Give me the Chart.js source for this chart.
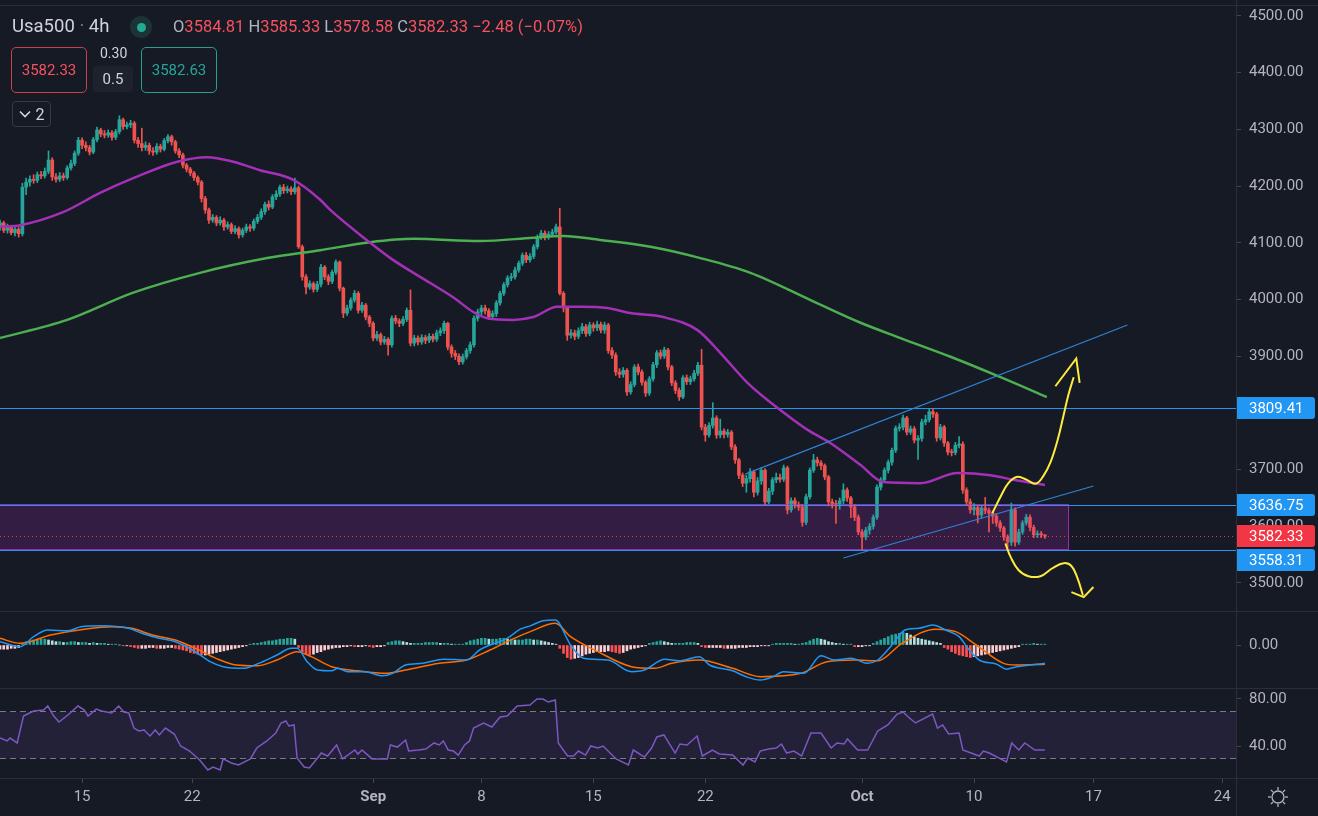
<!DOCTYPE html>
<html>
<head>
<meta charset="utf-8">
<title>Usa500 · 4h</title>
<script src="https://cdn.jsdelivr.net/npm/chart.js@4.4.1/dist/chart.umd.min.js"></script>
<style>
  body { margin:0; width:1318px; height:816px; overflow:hidden; background:#161a25; font-family:Roboto, "Liberation Sans", sans-serif; }
  canvas { position:absolute; left:0; }
  .hline { position:absolute; left:0; width:1318px; height:1px; background:#2a2e39; }
  .vline { position:absolute; top:0; left:1236px; width:1px; height:816px; background:#2a2e39; }
  .lg { position:absolute; white-space:nowrap; }
  .box { position:absolute; box-sizing:border-box; border-radius:5px; display:flex; align-items:center; justify-content:center; font-size:15px; }
</style>
</head>
<body>
<canvas id="mainChart" width="1318" height="611" style="top:0"></canvas>
<canvas id="macdChart" width="1318" height="77" style="top:611px"></canvas>
<canvas id="rsiChart" width="1318" height="128" style="top:688px"></canvas>

<div class="hline" style="top:5px"></div>
<div class="hline" style="top:611px"></div>
<div class="hline" style="top:688px"></div>
<div class="hline" style="top:778px"></div>
<div class="vline"></div>

<!-- legende en haut a gauche -->
<div class="lg" style="left:12px;top:15px;font-size:18.5px;color:#d1d4dc">Usa500 <span style="color:#787b86">·</span> 4h</div>
<div class="lg" style="left:130px;top:16px;width:22px;height:22px;border-radius:50%;background:#1c3436"></div>
<div class="lg" style="left:136.5px;top:22.5px;width:9px;height:9px;border-radius:50%;background:#22ab94"></div>
<div class="lg" style="left:173px;top:17px;font-size:16.5px;color:#b2b5be">O<span style="color:#f7525f">3584.81</span> H<span style="color:#f7525f">3585.33</span> L<span style="color:#f7525f">3578.58</span> C<span style="color:#f7525f">3582.33</span> <span style="color:#f7525f">−2.48 (−0.07%)</span></div>
<div class="box" style="left:11px;top:47px;width:76px;height:46px;border:1px solid #c9404c;color:#f7525f">3582.33</div>
<div class="lg" style="left:100px;top:45px;font-size:14px;color:#d1d4dc">0.30</div>
<div class="box" style="left:93px;top:66px;width:40px;height:26px;background:#1e222d;color:#d1d4dc;border-radius:4px">0.5</div>
<div class="box" style="left:141px;top:47px;width:76px;height:46px;border:1px solid #2a9d8f;color:#26a69a">3582.63</div>
<div class="box" style="left:12px;top:101px;width:39px;height:26px;border:1px solid #363a45;border-radius:4px;color:#d1d4dc;font-size:16px">
  <svg width="12" height="8" style="margin-right:5px"><polyline points="1,1.5 6,6.5 11,1.5" fill="none" stroke="#d1d4dc" stroke-width="1.6"/></svg>2
</div>
<svg class="lg" style="left:1266px;top:785px" width="24" height="24">
  <g stroke="#b2b5be" stroke-width="1.3" fill="none">
    <circle cx="12" cy="12" r="6"/>
    <line x1="12" y1="2" x2="12" y2="5"/><line x1="12" y1="19" x2="12" y2="22"/>
    <line x1="2" y1="12" x2="5" y2="12"/><line x1="19" y1="12" x2="22" y2="12"/>
    <line x1="4.9" y1="4.9" x2="7" y2="7"/><line x1="17" y1="17" x2="19.1" y2="19.1"/>
    <line x1="4.9" y1="19.1" x2="7" y2="17"/><line x1="17" y1="7" x2="19.1" y2="4.9"/>
  </g>
</svg>

<script>
/* ####################################################################*/
/* donnees : une bougie 4h par index */
const firstOpen = 4128
const closes = [
  4135,4122,4128,4118,4124,4116,4198,4207,4212,4210,
  4220,4218,4226,4246,4216,4212,4218,4215,4232,4240,
  4258,4281,4272,4268,4260,4282,4299,4292,4290,4294,
  4286,4296,4317,4305,4308,4311,4281,4275,4268,4272,
  4262,4260,4270,4265,4280,4287,4278,4262,4255,4237,
  4230,4223,4215,4207,4178,4158,4140,4145,4135,4140,
  4128,4132,4120,4125,4114,4122,4128,4126,4138,4145,
  4155,4168,4163,4181,4186,4198,4192,4195,4190,4197,
  4093,4040,4022,4028,4018,4027,4057,4040,4032,4048,
  4066,4020,3976,3985,3999,4011,3981,3990,3969,3958,
  3932,3938,3925,3930,3920,3967,3962,3958,3965,3981,
  3923,3932,3925,3933,3928,3935,3930,3941,3945,3958,
  3916,3905,3900,3890,3899,3910,3920,3967,3978,3985,
  3980,3970,3975,3994,4011,4026,4038,4040,4052,4064,
  4078,4070,4076,4093,4110,4117,4110,4115,4119,4128,
  4011,3985,3937,3941,3935,3945,3952,3940,3955,3950,
  3956,3946,3955,3910,3902,3872,3868,3875,3837,3850,
  3881,3872,3854,3835,3860,3885,3906,3900,3911,3881,
  3853,3840,3828,3862,3855,3860,3870,3884,3775,3761,
  3778,3791,3761,3768,3762,3766,3740,3717,3690,3676,
  3684,3696,3660,3680,3699,3643,3662,3682,3686,3683,
  3703,3629,3645,3638,3634,3607,3652,3699,3717,3712,
  3707,3687,3643,3640,3636,3645,3664,3650,3634,3616,
  3590,3581,3593,3600,3616,3669,3682,3699,3713,3734,
  3773,3775,3791,3766,3772,3752,3755,3784,3788,3802,
  3798,3756,3775,3747,3731,3730,3743,3745,3664,3643,
  3629,3633,3620,3632,3628,3623,3618,3606,3597,3581,
  3572,3629,3572,3590,3606,3616,3598,3585,3587,3584.81,
  3582.33
]
const highs = [
  4140,4138,4133,4131,4128,4127,4205,4214,4218,4220,
  4225,4226,4232,4262,4250,4222,4224,4223,4236,4246,
  4262,4286,4285,4278,4272,4286,4304,4302,4298,4299,
  4298,4300,4324,4320,4313,4316,4314,4286,4302,4278,
  4276,4268,4275,4274,4284,4291,4290,4281,4266,4258,
  4240,4233,4226,4218,4210,4182,4161,4150,4148,4146,
  4143,4137,4135,4130,4128,4126,4133,4132,4142,4150,
  4160,4172,4174,4185,4192,4202,4203,4200,4199,4214,
  4200,4096,4044,4033,4031,4032,4062,4060,4044,4052,
  4070,4068,4022,3990,4003,4016,4014,3995,3993,3972,
  3961,3944,3941,3935,3933,3971,3972,3966,3970,3985,
  4017,3937,3936,3938,3937,3940,3939,3946,3950,3962,
  3960,3920,3910,3904,3904,3914,3925,3971,3983,3990,
  3990,3984,3980,3998,4015,4030,4042,4046,4057,4068,
  4082,4083,4081,4097,4114,4122,4121,4120,4124,4133,
  4161,4014,3988,3947,3946,3950,3958,3956,3960,3959,
  3962,3960,3960,3958,3915,3906,3878,3880,3878,3855,
  3885,3886,3876,3857,3864,3889,3910,3911,3916,3914,
  3884,3857,3844,3866,3867,3865,3875,3889,3912,3780,
  3783,3818,3795,3789,3772,3771,3769,3744,3720,3694,
  3690,3702,3699,3686,3704,3702,3667,3686,3694,3692,
  3708,3706,3650,3650,3643,3638,3657,3703,3727,3722,
  3716,3710,3690,3648,3646,3650,3675,3668,3653,3638,
  3620,3594,3598,3605,3620,3673,3686,3703,3717,3738,
  3777,3781,3796,3794,3777,3776,3760,3789,3796,3807,
  3808,3801,3780,3778,3750,3736,3748,3758,3749,3668,
  3648,3640,3637,3637,3651,3632,3627,3622,3610,3600,
  3585,3641,3633,3595,3610,3621,3620,3602,3592,3591,
  3585.33
]
const lows = [
  4122,4118,4117,4114,4112,4110,4112,4185,4200,4205,
  4206,4213,4214,4222,4210,4207,4208,4210,4212,4228,
  4236,4254,4266,4262,4255,4257,4278,4287,4285,4286,
  4281,4282,4292,4300,4301,4303,4276,4268,4262,4263,
  4256,4254,4256,4260,4262,4276,4272,4258,4250,4232,
  4225,4218,4210,4202,4172,4152,4134,4136,4130,4131,
  4122,4124,4116,4116,4108,4110,4118,4120,4122,4134,
  4141,4150,4158,4160,4176,4182,4187,4188,4185,4186,
  4090,4034,4010,4018,4013,4014,4022,4035,4026,4028,
  4044,4015,3968,3972,3981,3995,3976,3977,3964,3952,
  3927,3928,3920,3921,3902,3916,3957,3952,3954,3961,
  3918,3918,3920,3921,3922,3924,3925,3926,3936,3940,
  3911,3898,3894,3885,3886,3895,3905,3916,3962,3973,
  3974,3965,3966,3970,3990,4007,4022,4033,4036,4048,
  4060,4065,4066,4072,4089,4106,4105,4106,4111,4115,
  4008,3978,3928,3932,3929,3931,3940,3935,3936,3944,
  3945,3941,3940,3905,3896,3866,3862,3863,3831,3833,
  3846,3867,3849,3829,3831,3856,3880,3895,3896,3876,
  3848,3834,3822,3825,3850,3850,3856,3866,3770,3750,
  3757,3773,3755,3756,3756,3757,3735,3711,3684,3670,
  3660,3678,3652,3655,3674,3638,3640,3656,3677,3678,
  3679,3622,3625,3632,3628,3600,3603,3648,3695,3706,
  3700,3682,3636,3632,3605,3630,3640,3644,3615,3610,
  3585,3558,3576,3586,3595,3612,3664,3677,3694,3708,
  3730,3768,3770,3761,3762,3747,3718,3750,3779,3784,
  3792,3750,3752,3741,3726,3724,3726,3738,3658,3637,
  3623,3620,3606,3615,3622,3590,3605,3600,3591,3575,
  3562,3566,3565,3568,3586,3602,3592,3580,3580,3580,
  3578.58
]
// chaque bougie ouvre sur la cloture precedente (CFD continu)
const opens = closes.map((c, i) => (i === 0 ? firstOpen : closes[i - 1]))

/* moyennes mobiles */
const maFastBars = [0,5.4,16.9,26.8,35.7,47.5,55.5,62.5,69.7,78.6,85.8,88.5,99.2,104.6,115.3,121.4,126.8,130.6,137.5,142.9,149.3,155.5,162.7,168.9,177.7,186.9,193,200.3,209.1,216.4,222.5,230.6,236.7,246.6,256.6,265.4,271.6,280]
const maFastVals = [4128,4131,4154,4188,4214,4243,4251,4243,4228,4211,4176,4158,4100,4073,4029,4004,3978,3967,3964,3969,3987,3987,3985,3976,3969,3946,3906,3853,3805,3770,3747,3708,3678,3676,3694,3690,3682,3673]
const maSlowBars = [0,18,35.7,53.6,71.6,85.8,99.2,110.7,128.7,142.9,150.9,160.9,174.3,187.7,201.1,217.2,230.6,241.3,254.7,268.1,280.5]
const maSlowVals = [3932,3964,4012,4047,4073,4087,4101,4107,4103,4109,4112,4105,4093,4073,4047,3999,3959,3932,3899,3863,3828]

/* MACD */
const macdBars = [0,5.4,9,12.8,18.2,21.7,27.2,34.5,38,42.7,47,51.6,56.3,59.8,65.2,68.8,74.2,78,79.6,82.3,85,88.9,90.5,93.2,97.8,102.4,105.2,108.7,113.3,118.8,125,128.5,131.3,135.9,139.4,142.1,145.5,148.8,152.9,156.4,162.9,169.2,172.7,178.1,182,187.4,190.1,196.3,199.9,203.7,207.2,209.9,215.4,220,223.5,228.1,232.5,235.2,239,242.5,246.1,249.9,253.4,257,259.7,262.4,267,269.7,272.4,276,280]
const macdVals = [4,-2,10,18,17,22,23,20,14,8,4,-6,-20,-26,-28,-23,-12,-4,-4,-20,-30,-31,-28,-32,-32,-37,-34,-24,-22,-17,-18,-6,0,8,19,23,29,30,0,-16,-18,-32,-30,-17,-19,-14,-24,-31,-38,-42,-38,-32,-34,-13,-18,-16,-22,-18,0,18,20,24,18,10,-6,-18,-23,-29,-26,-24,-22]
const signalBars = [0,5.4,13.6,22.6,29.9,35.3,40.8,47,52.4,57.9,63.3,68.8,74.2,79.6,83.4,88.9,95.9,103.3,108.7,117.7,125,131.3,137.8,142.1,148.8,152.9,160.2,169.2,175.4,180,187.4,196.3,203.7,214.6,221.6,229,235.2,241.7,250.7,256.1,261.6,268.9,272.4,280]
const signalVals = [8,2,12,19,22,20,12,6,-4,-16,-24,-25,-18,-8,-14,-26,-31,-34,-30,-22,-18,-6,8,16,26,10,-8,-26,-28,-22,-18,-28,-38,-34,-20,-18,-19,2,19,16,0,-22,-24,-23]
const histVals = [
  -5,-5,-5,-4,-4,-3,
  2,4,5,6,7,7,7,6,
  5,4,4,3,3,4,4,3,3,3,2,3,2,2,2,1,1,
  1,0,-1,
  -1,-2,-3,-4,-4,-4,-3,-3,-4,-4,-4,-3,-3,-4,-5,-6,-7,
  -9,-10,-11,-12,-12,-11,
  -10,-9,-8,-7,-6,-5,-4,-3,-2,-1,
  1,2,2,3,4,5,5,6,7,7,8,8,7,
  -3,-8,-11,-12,-11,-9,
  -8,-6,-5,-4,
  -3,-3,-2,-2,-1,-2,-2,-2,-1,-2,-3,-2,-2,-1,
  3,4,5,5,4,3,2,2,
  2,2,3,3,3,3,2,2,2,1,1,1,1,
  3,5,6,7,8,8,7,7,7,8,8,7,7,6,6,6,7,
  7,6,6,5,4,3,2,1,
  -4,-10,-15,-17,-16,-15,-13,-11,
  -10,-9,-8,-8,-8,-7,-8,-9,-10,-9,-7,-5,-4,-3,-2,-1,
  2,3,4,5,4,3,2,2,2,2,3,3,3,2,
  -2,-3,-3,-3,-3,-3,-4,-4,-4,-4,-3,-3,-3,-2,-2,-2,-1,-1,-1,
  1,2,2,2,2,2,1,1,2,3,
  5,7,8,7,6,
  4,3,2,2,1,1,1,
  -2,-2,-2,-1,-1,
  2,4,6,8,10,12,13,14,15,14,
  12,10,8,7,6,5,4,3,2,
  -3,-5,-8,-10,-12,-13,-14,-15,
  -14,-13,-12,-11,-10,-9,-8,-7,-6,-5,-4,-3,-2,
  1,1,1,2,1,1,1
]

/* RSI */
const rsiBars = [0,1.9,2.7,4.6,6.3,9,11.7,12.8,14.4,15.8,18.2,20.9,22.6,23.6,25.8,27.2,29.9,31.8,33.2,34.5,35.9,37.2,38.6,40.2,41.6,42.7,44.3,46.7,48.4,50.8,53.5,55.7,57.1,59,59.8,62,63.9,67.1,68.8,71.5,73.9,75.3,76.6,77.4,78.8,79.6,81.5,82.9,85.1,86.1,87.8,90.2,91.8,95.1,95.9,97,99.7,103.8,104.6,106.5,108.7,109.5,112.2,114.1,116.3,117.7,118.8,120.1,121.5,122.8,124.5,125.8,126.9,129.6,131.8,134,135.9,138.6,142,143.9,145.5,146.9,148.8,149.6,152.1,153.7,155,156.9,158.3,160.2,161.6,165.1,168.4,169.7,172.7,174.6,176,177.9,180.9,182.2,184.1,186.8,188.2,190.9,192.8,196.3,199.1,200.4,202.3,203.7,205.9,208,209.4,210.8,212.7,214.8,217.3,220,222.7,224.3,226.2,227.1,229.8,232.5,235.2,237.9,240.4,242,243.4,245.3,249.9,251.2,252.6,254.2,257,258,262.4,263.5,265.1,269.7,271.1,273,274.6,277.3,280]
const rsiVals = [46.8,44.3,46.8,42.6,65.5,69.8,70.6,74,65.5,60.4,66.4,74,70.6,65.5,71.5,69.8,68.1,74,68.9,68.1,55.3,52.8,53.6,48.5,53.6,49.4,55.3,50.2,40,35.7,28.1,19.6,22.1,19.6,29,25.5,23.8,29,38.3,44.3,51.1,59.6,61.3,57,57.9,29.8,22.1,21.3,29.8,34,31.5,40.9,29,36.6,33.2,36.6,29,29,40.9,39.1,45.1,35.7,36.6,37.4,42.6,40.9,44.3,36.6,35.7,32.3,40.9,44.3,55.3,59.6,56.2,64.7,65.5,74,74.9,80,80,77.4,79.1,42.6,31.5,31.5,35.7,32.3,40,38.3,40,29,23.8,36.6,30.6,38.3,47.7,49.4,34,41.7,40.9,48.5,31.5,36.6,33.2,32.3,23.8,29.8,26.4,35.7,37.4,38.3,41.7,34,35.7,31.5,51.1,51.1,38.3,42.6,41.7,46,36.6,36.6,52.8,57.9,67.2,68.9,64.7,59.6,67.2,55.3,57.9,50.2,51.1,36.6,31.5,35.7,34,26.4,42.6,36.6,42.6,36.6,36.6]

/* axes */
const priceTicks = [3500,3600,3700,3800,3900,4000,4100,4200,4300,4400,4500]
const macdTicks = [0]
const rsiTicks = [40,80]
const tickBars = [22,51.5,100,129,159,189,231,261,293,327.5]
const tickText = ['15','22','Sep','8','15','22','Oct','10','17','24']
const monthLabels = ['Sep','Oct']

/* dessins */
const levelPrices = [3809.41, 3636.75, 3558.31]
const lastPrice = 3582.33
const zoneStart = -5, zoneEnd = 286.3, zoneTop = 3639.5, zoneBottom = 3559.5
const upperTrendBars = [199.7, 302.1], upperTrendVals = [3692, 3955]
const lowerTrendBars = [226, 293], lowerTrendVals = [3544, 3671]
const upShaftBars = [265.9,268.1,270.2,272.4,274.8,277.5,279.6,281.5,283.4,285,286.3,287.7]
const upShaftVals = [3623,3652,3676,3687,3683,3675,3689,3713,3752,3796,3832,3863]
const upHeadBars = [282.8,288.4,289.3]
const upHeadVals = [3847,3896,3853]
const downCurveBars = [269.4,270.8,272.9,275.6,278.8,282,285,287.1,288.7,290.2]
const downCurveVals = [3570,3546,3523,3512,3512,3526,3535,3530,3509,3478]
const downHeadBars = [287.1,290.4,293]
const downHeadVals = [3484,3475,3493]

/* ####################################################################*/
const upColor = '#26a69a'
const downColor = '#ef5350'
const xMin = 0, xMax = 331.2

Chart.defaults.font.family = 'Roboto, "Liberation Sans", sans-serif'
Chart.defaults.color = '#b2b5be'

const pts = (xs, ys) => xs.map((x, i) => ({ x: x, y: ys[i] }))

function timeScale(show) {
  return {
    type: 'linear', min: xMin, max: xMax, offset: false, display: show,
    grid: { display: show, drawOnChartArea: false, drawTicks: true, tickLength: 5, color: '#434651' },
    border: { display: false },
    afterBuildTicks: s => { s.ticks = tickBars.map(v => ({ value: v })) },
    afterFit: s => { s.paddingLeft = 0; s.paddingRight = 0; if (show) s.height = 38 },
    ticks: {
      padding: 5, maxRotation: 0, autoSkip: false, color: '#b2b5be',
      font: c => ({ size: 15, weight: monthLabels.includes(tickText[c.index]) ? 'bold' : 'normal' }),
      callback: (v, i) => tickText[i]
    }
  }
}

function valueScale(lo, hi, ticks) {
  return {
    type: 'linear', position: 'right', min: lo, max: hi,
    grid: { drawOnChartArea: false, drawTicks: true, tickLength: 5, color: '#434651' },
    border: { display: false },
    afterBuildTicks: s => { s.ticks = ticks.map(v => ({ value: v })) },
    afterFit: s => { s.width = 82; s.paddingTop = 0; s.paddingBottom = 0 },
    ticks: { padding: 8, color: '#b2b5be', font: { size: 15 }, callback: v => Number(v).toFixed(2) }
  }
}

const baseOptions = {
  responsive: false, animation: false, events: [], devicePixelRatio: 1,
  layout: { padding: 0 },
  plugins: { legend: { display: false }, tooltip: { enabled: false } }
}

/* zone violette, niveaux et prix courant, dessines juste apres les bougies */
const drawingsPlugin = {
  id: 'drawings',
  afterDatasetDraw(chart, args) {
    if (args.index !== 9) return
    const { ctx, chartArea: a, scales: { x, y } } = chart
    ctx.save()
    const zx1 = x.getPixelForValue(zoneStart), zx2 = Math.round(x.getPixelForValue(zoneEnd)) + 0.5
    const zy1 = Math.round(y.getPixelForValue(zoneTop)) + 0.5, zy2 = Math.round(y.getPixelForValue(zoneBottom)) + 0.5
    ctx.fillStyle = 'rgba(156, 39, 176, 0.22)'
    ctx.fillRect(zx1, zy1, zx2 - zx1, zy2 - zy1)
    ctx.strokeStyle = '#9c27b0'
    ctx.lineWidth = 1
    ctx.strokeRect(zx1, zy1, zx2 - zx1, zy2 - zy1)
    ctx.strokeStyle = '#2196f3'
    levelPrices.forEach(v => {
      const py = Math.round(y.getPixelForValue(v)) + 0.5
      ctx.beginPath(); ctx.moveTo(a.left, py); ctx.lineTo(a.right, py); ctx.stroke()
    })
    const ly = Math.round(y.getPixelForValue(lastPrice)) + 0.5
    ctx.strokeStyle = '#f23645'
    ctx.setLineDash([1, 3])
    ctx.beginPath(); ctx.moveTo(a.left, ly); ctx.lineTo(a.right, ly); ctx.stroke()
    ctx.restore()
  }
}

/* etiquettes de prix sur l'axe */
const badgePlugin = {
  id: 'badges',
  afterDraw(chart) {
    const { ctx, chartArea: a, scales: { y } } = chart
    const h = 22
    const last = { v: lastPrice, c: '#f23645', y: y.getPixelForValue(lastPrice) }
    const items = [last].concat(levelPrices.map(v => ({ v: v, c: '#2196f3', y: y.getPixelForValue(v) })))
    items.slice(1).forEach(it => {
      const d = it.y - last.y
      if (Math.abs(d) < h + 2) it.y = last.y + (d >= 0 ? h + 2 : -(h + 2))
    })
    ctx.save()
    items.forEach(it => {
      const top = Math.round(it.y - h / 2)
      ctx.fillStyle = it.c
      ctx.beginPath()
      ctx.roundRect(a.right, top, 79, h, [0, 3, 3, 0])
      ctx.fill()
      ctx.fillStyle = '#ffffff'
      ctx.font = '15px Roboto, "Liberation Sans", sans-serif'
      ctx.textBaseline = 'middle'
      ctx.textAlign = 'left'
      ctx.fillText(it.v.toFixed(2), a.right + 13, top + h / 2 + 1)
    })
    ctx.restore()
  }
}

/* graphique principal */
const bodies = closes.map((c, i) => ({ x: i, y: [opens[i], c] }))
const wicks = closes.map((c, i) => ({ x: i, y: [lows[i], highs[i]] }))
const candleColors = closes.map((c, i) => (c >= opens[i] ? upColor : downColor))

function drawLine(data, color, width, tension) {
  return {
    type: 'line', data: data, borderColor: color, borderWidth: width,
    pointRadius: 0, tension: tension, fill: false
  }
}

new Chart(document.getElementById('mainChart'), {
  type: 'bar',
  data: {
    datasets: [
      drawLine(pts(upShaftBars, upShaftVals), '#ffeb3b', 2, 0.4),
      drawLine(pts(upHeadBars, upHeadVals), '#ffeb3b', 2, 0),
      drawLine(pts(downCurveBars, downCurveVals), '#ffeb3b', 2, 0.4),
      drawLine(pts(downHeadBars, downHeadVals), '#ffeb3b', 2, 0),
      drawLine(pts(upperTrendBars, upperTrendVals), '#2f83d6', 1.2, 0),
      drawLine(pts(lowerTrendBars, lowerTrendVals), '#2f83d6', 1.2, 0),
      Object.assign(drawLine(pts(maFastBars, maFastVals), '#a530b8', 2.5, 0.4), { cubicInterpolationMode: 'monotone' }),
      Object.assign(drawLine(pts(maSlowBars, maSlowVals), '#4caf50', 2.5, 0.4), { cubicInterpolationMode: 'monotone' }),
      { type: 'bar', data: wicks, backgroundColor: candleColors, borderWidth: 0, barThickness: 1, grouped: false },
      { type: 'bar', data: bodies, backgroundColor: candleColors, borderWidth: 0, barThickness: 3, minBarLength: 1, grouped: false }
    ]
  },
  options: Object.assign({}, baseOptions, {
    scales: { x: timeScale(false), y: valueScale(3450.6, 4528.2, priceTicks) }
  }),
  plugins: [drawingsPlugin, badgePlugin]
})

/* MACD */
const histColors = histVals.map((v, i) => {
  const prev = i ? histVals[i - 1] : v
  if (v >= 0) return v >= prev ? '#26a69a' : '#b2dfdb'
  return v < prev ? '#ff5252' : '#ffcdd2'
})

new Chart(document.getElementById('macdChart'), {
  type: 'bar',
  data: {
    datasets: [
      Object.assign(drawLine(pts(macdBars, macdVals), '#2196f3', 1.5, 0.4), { cubicInterpolationMode: 'monotone' }),
      Object.assign(drawLine(pts(signalBars, signalVals), '#ff6d00', 1.5, 0.4), { cubicInterpolationMode: 'monotone' }),
      { type: 'bar', data: histVals.map((v, i) => ({ x: i, y: v })), backgroundColor: histColors, borderWidth: 0, barThickness: 2, grouped: false }
    ]
  },
  options: Object.assign({}, baseOptions, {
    scales: { x: timeScale(false), y: valueScale(-51.6, 40.8, macdTicks) }
  })
})

/* RSI : bande 30-70 */
const rsiBandPlugin = {
  id: 'rsiBand',
  beforeDatasetsDraw(chart) {
    const { ctx, chartArea: a, scales: { y } } = chart
    const y70 = Math.round(y.getPixelForValue(70)) + 0.5, y30 = Math.round(y.getPixelForValue(30)) + 0.5
    ctx.save()
    ctx.fillStyle = 'rgba(126, 87, 194, 0.12)'
    ctx.fillRect(a.left, y70, a.right - a.left, y30 - y70)
    ctx.strokeStyle = '#787b86'
    ctx.lineWidth = 1
    ctx.setLineDash([6, 4])
    ;[y70, y30].forEach(py => { ctx.beginPath(); ctx.moveTo(a.left, py); ctx.lineTo(a.right, py); ctx.stroke() })
    ctx.restore()
  }
}

new Chart(document.getElementById('rsiChart'), {
  type: 'line',
  data: {
    datasets: [drawLine(pts(rsiBars, rsiVals), '#7e57c2', 1.5, 0)]
  },
  options: Object.assign({}, baseOptions, {
    scales: { x: timeScale(true), y: valueScale(12.77, 89.36, rsiTicks) }
  }),
  plugins: [rsiBandPlugin]
})
</script>
</body>
</html>
